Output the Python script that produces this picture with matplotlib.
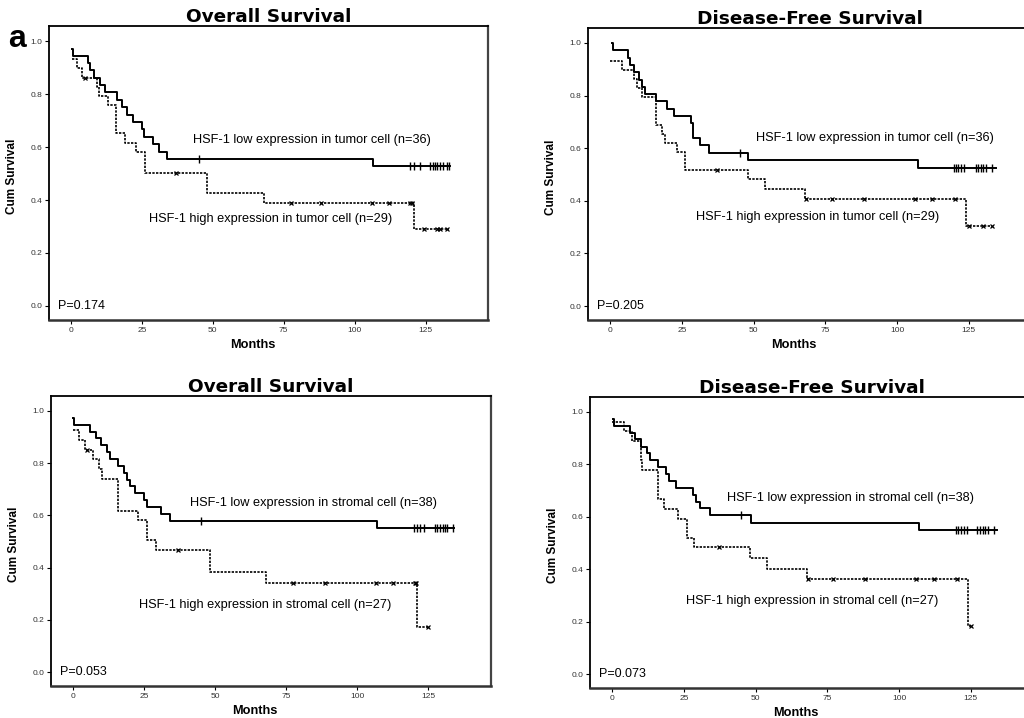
import matplotlib
matplotlib.use("Agg")
import matplotlib.pyplot as plt
import matplotlib.transforms as mtransforms
import numpy as np

plt.rcParams["font.family"] = ["Liberation Sans", "DejaVu Sans"]

# ---- Overall survival, tumor cell ----
os_tumor_low_t = [0.4, 0.6, 6.2, 6.9, 8.2, 10.1, 12.1, 16.2, 18.1, 19.9, 21.9, 24.9, 25.9, 29.1, 31.0, 33.9, 106.6]
os_tumor_low_s = [0.972, 0.944, 0.917, 0.889, 0.861, 0.833, 0.806, 0.778, 0.750, 0.722, 0.694, 0.667, 0.639, 0.611, 0.583, 0.556, 0.528]
os_tumor_low_end = 133.5
os_tumor_low_cens = [45.0, 119.6, 120.8, 122.9, 126.6, 127.5, 128.4, 129.2, 130.2, 131.1, 132.5, 133.3]

os_tumor_high_t = [0.3, 2.0, 3.8, 9.2, 9.9, 13.1, 15.9, 19.0, 23.1, 26.0, 47.9, 68.0, 120.8]
os_tumor_high_s = [0.931, 0.897, 0.862, 0.828, 0.793, 0.759, 0.652, 0.617, 0.580, 0.501, 0.428, 0.389, 0.291]
os_tumor_high_end = 133.1
os_tumor_high_cens = [5.0, 37.0, 77.5, 88.1, 106.1, 112.0, 119.6, 120.1, 124.4, 129.2, 130.0, 132.5]

# ---- Disease-free survival, tumor cell ----
dfs_tumor_low_t = [0.7, 1.0, 6.1, 7.0, 8.2, 10.1, 11.0, 12.2, 16.1, 19.9, 22.1, 28.2, 29.0, 31.2, 34.3, 48.2, 107.2]
dfs_tumor_low_s = [1.0, 0.972, 0.944, 0.917, 0.889, 0.861, 0.833, 0.806, 0.778, 0.750, 0.722, 0.694, 0.639, 0.611, 0.583, 0.554, 0.526]
dfs_tumor_low_end = 134.3
dfs_tumor_low_cens = [45.1, 119.8, 120.4, 121.3, 122.1, 123.3, 127.4, 128.3, 129.1, 130.0, 130.8, 132.9]

dfs_tumor_high_t = [0.0, 4.2, 8.3, 9.2, 11.0, 16.1, 18.2, 19.3, 23.3, 26.1, 48.0, 54.1, 68.0, 124.1]
dfs_tumor_high_s = [0.931, 0.897, 0.862, 0.828, 0.793, 0.690, 0.655, 0.621, 0.586, 0.517, 0.482, 0.444, 0.407, 0.305]
dfs_tumor_high_end = 133.2
dfs_tumor_high_cens = [37.3, 68.4, 77.2, 88.3, 106.2, 112.1, 120.1, 125.0, 129.9, 133.2]

# ---- Overall survival, stromal cell ----
os_stroma_low_t = [0.2, 0.5, 6.0, 8.0, 9.9, 12.0, 13.0, 16.0, 17.9, 18.9, 20.1, 21.9, 24.9, 26.0, 31.0, 34.0, 106.8]
os_stroma_low_s = [0.974, 0.947, 0.921, 0.895, 0.868, 0.842, 0.816, 0.789, 0.763, 0.737, 0.711, 0.684, 0.658, 0.632, 0.605, 0.579, 0.552]
os_stroma_low_end = 133.9
os_stroma_low_cens = [45.0, 120.0, 120.9, 122.1, 123.5, 127.3, 128.1, 129.0, 130.0, 130.8, 131.6, 133.5]

os_stroma_high_t = [0.0, 2.1, 4.3, 7.0, 9.3, 10.1, 15.9, 23.0, 26.1, 29.2, 48.1, 67.9, 121.1]
os_stroma_high_s = [0.926, 0.889, 0.852, 0.815, 0.778, 0.741, 0.617, 0.583, 0.507, 0.469, 0.383, 0.341, 0.171]
os_stroma_high_end = 125.0
os_stroma_high_cens = [5.1, 37.1, 77.4, 88.5, 106.5, 112.5, 120.4, 120.8, 125.0]

# ---- Disease-free survival, stromal cell ----
dfs_stroma_low_t = [0.4, 0.7, 6.1, 8.1, 9.9, 12.0, 13.1, 15.9, 18.7, 19.9, 22.1, 28.3, 29.4, 30.8, 34.1, 48.3, 107.0]
dfs_stroma_low_s = [0.974, 0.947, 0.921, 0.895, 0.868, 0.842, 0.816, 0.789, 0.763, 0.737, 0.711, 0.684, 0.658, 0.632, 0.605, 0.577, 0.550]
dfs_stroma_low_end = 134.0
dfs_stroma_low_cens = [45.0, 119.8, 120.6, 121.5, 122.7, 123.8, 127.1, 128.2, 129.1, 129.9, 130.8, 133.1]

dfs_stroma_high_t = [0.0, 4.0, 7.0, 9.9, 10.5, 15.9, 18.0, 22.9, 26.2, 28.7, 48.0, 54.1, 68.0, 124.1]
dfs_stroma_high_s = [0.963, 0.926, 0.889, 0.815, 0.778, 0.667, 0.630, 0.593, 0.519, 0.485, 0.444, 0.402, 0.362, 0.182]
dfs_stroma_high_end = 125.0
dfs_stroma_high_cens = [37.3, 68.2, 77.0, 88.0, 106.0, 112.0, 120.2, 125.0]

panels = [
    dict(title="Overall Survival", p="P=0.174",
         low=(os_tumor_low_t, os_tumor_low_s, os_tumor_low_end, os_tumor_low_cens),
         high=(os_tumor_high_t, os_tumor_high_s, os_tumor_high_end, os_tumor_high_cens),
         low_lab="HSF-1 low expression in tumor cell (n=36)", low_xy=(43.0, 0.628),
         high_lab="HSF-1 high expression in tumor cell (n=29)", high_xy=(27.7, 0.329),
         rect=[49, 26, 439, 294]),
    dict(title="Disease-Free Survival", p="P=0.205",
         low=(dfs_tumor_low_t, dfs_tumor_low_s, dfs_tumor_low_end, dfs_tumor_low_cens),
         high=(dfs_tumor_high_t, dfs_tumor_high_s, dfs_tumor_high_end, dfs_tumor_high_cens),
         low_lab="HSF-1 low expression in tumor cell (n=36)", low_xy=(50.8, 0.638),
         high_lab="HSF-1 high expression in tumor cell (n=29)", high_xy=(29.9, 0.340),
         rect=[588, 28, 444, 292]),
    dict(title="Overall Survival", p="P=0.053",
         low=(os_stroma_low_t, os_stroma_low_s, os_stroma_low_end, os_stroma_low_cens),
         high=(os_stroma_high_t, os_stroma_high_s, os_stroma_high_end, os_stroma_high_cens),
         low_lab="HSF-1 low expression in stromal cell (n=38)", low_xy=(41.1, 0.648),
         high_lab="HSF-1 high expression in stromal cell (n=27)", high_xy=(23.4, 0.257),
         rect=[51, 396, 440, 290]),
    dict(title="Disease-Free Survival", p="P=0.073",
         low=(dfs_stroma_low_t, dfs_stroma_low_s, dfs_stroma_low_end, dfs_stroma_low_cens),
         high=(dfs_stroma_high_t, dfs_stroma_high_s, dfs_stroma_high_end, dfs_stroma_high_cens),
         low_lab="HSF-1 low expression in stromal cell (n=38)", low_xy=(40.1, 0.672),
         high_lab="HSF-1 high expression in stromal cell (n=27)", high_xy=(25.9, 0.277),
         rect=[590, 397, 444, 291]),
]

W, H = 1024, 718
fig = plt.figure(figsize=(W / 100, H / 100), dpi=100)


def draw_curve(ax, curve, solid):
    t, s, end, cens = curve
    x = list(t) + [end]
    y = list(s) + [s[-1]]
    if solid:
        ax.step(x, y, where="post", color="black", lw=1.4)
    else:
        ax.step(x, y, where="post", color="black", lw=1.2, ls=(0, (1.4, 0.8)))
    # censored marks sit on the step function
    idx = np.searchsorted(np.array(t), np.array(cens), side="right") - 1
    cy = np.array(s)[np.clip(idx, 0, None)]
    if solid:
        ax.plot(cens, cy, ls="none", marker="|", ms=6, mew=1.0, color="black")
    else:
        ax.plot(cens, cy, ls="none", marker="x", ms=3.5, mew=0.9, color="black")


for pn in panels:
    l, t, w, h = pn["rect"]
    ax = fig.add_axes([l / W, (H - t - h) / H, w / W, h / H])
    draw_curve(ax, pn["low"], True)
    draw_curve(ax, pn["high"], False)
    ax.set_xlim(-7.7, 147)
    ax.set_ylim(-0.053, 1.057)
    ax.set_xticks([0, 25, 50, 75, 100, 125])
    ax.set_yticks([0.0, 0.2, 0.4, 0.6, 0.8, 1.0])
    ax.set_yticklabels(["0.0", "0.2", "0.4", "0.6", "0.8", "1.0"])
    ax.tick_params(labelsize=6, length=3, width=0.8, pad=2, labelcolor="#333333")
    for sp in ax.spines.values():
        sp.set_linewidth(1.3)
    ax.spines["bottom"].set_linewidth(1.8)
    ax.spines["right"].set_linewidth(1.6)
    ax.spines["bottom"].set_color("#333333")
    ax.spines["right"].set_color("#444444")
    ax.set_title(pn["title"], fontsize=13.3, fontweight="bold", family="DejaVu Sans", pad=3)
    ax.set_ylabel("Cum Survival", fontsize=8.5, fontweight="bold")
    ax.yaxis.set_label_coords(-31 / w, 0.49)
    tr = mtransforms.blended_transform_factory(ax.transData, ax.transAxes)
    ax.text(64, -25 / h, "Months", transform=tr, fontsize=9.2, fontweight="bold",
            ha="center", va="center")
    ax.text(pn["low_xy"][0], pn["low_xy"][1], pn["low_lab"], fontsize=9.2, va="center")
    ax.text(pn["high_xy"][0], pn["high_xy"][1], pn["high_lab"], fontsize=9.2, va="center")
    ax.text(-4.4, 0.0, pn["p"], fontsize=9, va="center")

fig.text(8 / W, (H - 47) / H, "a", fontsize=23, fontweight="bold", va="baseline")

fig.savefig("out.png", dpi=100)
